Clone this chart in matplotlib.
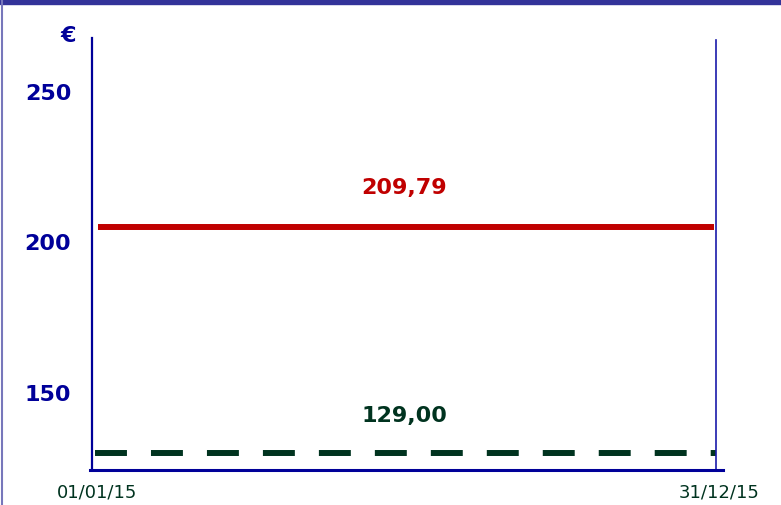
import matplotlib.pyplot as plt
import matplotlib.lines as mlines

# données
dates = ["01/01/15", "31/12/15"]
jours = [0, 364]
prix_rouge = 205
prix_vert = 130
label_rouge = "209,79"
label_vert = "129,00"
yticks = [150, 200, 250]

plt.rcParams["font.family"] = ["DejaVu Sans"]
plt.rcParams["lines.scale_dashes"] = False

fig = plt.figure(figsize=(7.81, 5.05), dpi=100)
ax = fig.add_axes([92 / 781, 35 / 505, 631 / 781, 432 / 505])

# lignes
ax.plot([3.5, 362.8], [prix_rouge, prix_rouge], color="#C00000", lw=4.3,
        solid_capstyle="butt")
ax.plot([1.7, 364], [prix_vert, prix_vert], color="#00331F", lw=4.3,
        dashes=(23, 17.3), solid_capstyle="butt", dash_capstyle="butt")
ax.axvline(jours[1], ymax=0.995, color="#1a1aaa", lw=1.2)

# étiquettes des valeurs
ax.text(182, prix_rouge + 13, label_rouge, color="#C00000", fontsize=16,
        fontweight="bold", ha="center", va="center")
ax.text(182, prix_vert + 12.5, label_vert, color="#00331F", fontsize=16,
        fontweight="bold", ha="center", va="center")

ax.set_xlim(0, 368)
ax.set_ylim(124.4, 267.9)

ax.set_yticks(yticks)
ax.set_yticklabels([str(v) for v in yticks], color="#000099", fontsize=16,
                   fontweight="bold")
ax.set_xticks([jours[0] + 3, jours[1] + 2])
ax.set_xticklabels(dates, color="#00331F", fontsize=13)
ax.tick_params(axis="y", length=0, pad=15)
ax.tick_params(axis="x", length=0, pad=10)

for s in ["top", "right"]:
    ax.spines[s].set_visible(False)
ax.spines["left"].set_color("#000099")
ax.spines["left"].set_linewidth(1.6)
ax.spines["bottom"].set_color("#000099")
ax.spines["bottom"].set_linewidth(2.2)
ax.spines["bottom"].set_bounds(-1, 368)

# symbole euro
fig.text(68 / 781, 1 - 36 / 505, "€", color="#000099", fontsize=16,
         fontweight="bold", ha="center", va="center")

# cadre du haut et bord gauche
fig.patches.append(plt.Rectangle((0, 1 - 4 / 505), 1, 4 / 505,
                                 transform=fig.transFigure,
                                 color="#333399", zorder=0))
fig.lines.append(mlines.Line2D([1.5 / 781, 1.5 / 781], [0, 1],
                               transform=fig.transFigure,
                               color="#7777bb", lw=1.5))

plt.savefig("out.png", dpi=100)
